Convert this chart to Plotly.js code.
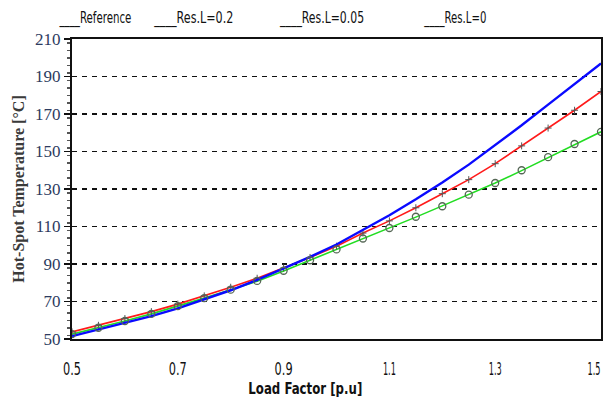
<!DOCTYPE html>
<html>
<head>
<meta charset="utf-8">
<script src="https://cdn.plot.ly/plotly-3.0.1.min.js"></script>
<style>
  html, body { margin: 0; padding: 0; background: #ffffff; }
  #chart { width: 607px; height: 399px; }
</style>
</head>
<body>
<div id="chart"></div>
<script>
// Load factor samples (p.u.)
const loadFactor = [0.5, 0.55, 0.6, 0.65, 0.7, 0.75, 0.8, 0.85, 0.9, 0.95, 1.0,
                    1.05, 1.1, 1.15, 1.2, 1.25, 1.3, 1.35, 1.4, 1.45, 1.5];

// Hot-spot temperature (°C) for each model
const referenceTemp = [52.6, 56.0, 59.6, 63.4, 67.5, 71.8, 76.3, 81.0, 86.4, 92.0, 97.8,
                       103.6, 109.2, 115.2, 120.8, 127.0, 133.2, 140.0, 147.0, 154.0, 160.5];
const resL02Temp    = [51.5, 55.0, 58.5, 62.2, 66.3, 71.0, 76.0, 81.5, 87.5, 93.8, 100.4,
                       108.0, 116.0, 124.5, 133.5, 143.0, 153.3, 164.0, 175.0, 186.0, 197.0];
const resL005Temp   = [53.8, 57.3, 60.9, 64.6, 68.6, 73.0, 77.6, 82.4, 87.8, 93.5, 99.5,
                       106.5, 113.0, 120.0, 127.5, 135.0, 143.5, 153.0, 162.5, 172.0, 182.0];
const resL0Temp     = [52.6, 56.0, 59.6, 63.4, 67.5, 71.8, 76.3, 80.8, 86.3, 92.0, 97.5,
                       103.3, 109.0, 115.0, 121.0, 127.0, 133.2, 139.8, 146.6, 153.4, 160.5];

// Legend labels and axis ticks
const seriesNames = ['Reference', 'Res.L=0.2', 'Res.L=0.05', 'Res.L=0'];
const xTicks = [0.5, 0.7, 0.9, 1.1, 1.3, 1.5];
const yTicks = [50, 70, 90, 110, 130, 150, 170, 190, 210];

const narrow = '"DejaVu Sans Condensed", "Liberation Sans Narrow", "Arial Narrow", sans-serif';
const serif = '"Liberation Serif", "Times New Roman", serif';

const traces = [
  {
    x: loadFactor, y: resL0Temp, name: seriesNames[3], mode: 'lines',
    line: { color: '#22dd22', width: 1.6 }
  },
  {
    x: loadFactor, y: resL005Temp, name: seriesNames[2], mode: 'lines+markers',
    line: { color: '#ff1a1a', width: 1.6 },
    marker: { symbol: 'cross-thin-open', size: 5, color: '#555555', line: { width: 1, color: '#555555' } }
  },
  {
    x: loadFactor, y: resL02Temp, name: seriesNames[1], mode: 'lines',
    line: { color: '#0a0aff', width: 2.4 }
  },
  {
    x: loadFactor, y: referenceTemp, name: seriesNames[0], mode: 'markers',
    marker: { symbol: 'circle-open', size: 7, color: '#556655', line: { width: 1.3, color: '#556655' } }
  }
];

// Legend drawn as condensed text entries across the top, each preceded by an underline.
// Each entry is given by its left and right pixel edge.
const plotLeft = 72, plotRight = 601;
const legendSpans = [[59, 131], [154, 233], [279, 363], [424, 486]];
const toPaper = px => (px - plotLeft) / (plotRight - plotLeft);

const annotations = seriesNames.map((name, i) => ({
  text: '____' + name,
  xref: 'paper', yref: 'paper',
  x: toPaper((legendSpans[i][0] + legendSpans[i][1]) / 2),
  y: 1.0, yshift: 21,
  xanchor: 'center', yanchor: 'middle',
  showarrow: false,
  font: { family: narrow, size: 15, color: '#111111' }
}));

const xTitleSpan = [248, 362];
annotations.push({
  text: '<b>Load Factor [p.u]</b>',
  xref: 'paper', yref: 'paper',
  x: toPaper((xTitleSpan[0] + xTitleSpan[1]) / 2), y: 0, yshift: -50,
  xanchor: 'center', yanchor: 'middle',
  showarrow: false,
  font: { family: narrow, size: 15, color: '#111111' }
});

// Condensed widths of the x tick labels (px); the last label sits against the right edge
const xTickWidths = [18, 18, 18, 13, 13, 13];
const lastTickNudge = -7;

const layout = {
  width: 607, height: 399,
  margin: { l: 72, r: 6, t: 39, b: 60 },
  paper_bgcolor: '#ffffff', plot_bgcolor: '#ffffff',
  showlegend: false,
  xaxis: {
    range: [0.5, 1.5],
    tickvals: xTicks,
    ticktext: xTicks.map(v => v.toFixed(1)),
    showgrid: false, zeroline: false,
    showline: true, mirror: true, linecolor: '#111111', linewidth: 2,
    ticks: '', ticklabelstandoff: 14, ticklabeloverflow: 'allow',
    tickfont: { family: narrow, size: 17, color: '#111111' }
  },
  yaxis: {
    range: [50, 210],
    tickvals: yTicks,
    showgrid: true, gridcolor: '#111111', gridwidth: 1.2, griddash: '5px,5px',
    zeroline: false,
    showline: true, mirror: true, linecolor: '#111111', linewidth: 2,
    ticks: 'outside', ticklen: 6, tickcolor: '#111111', tickwidth: 1.5,
    minor: { dtick: 4, ticks: 'outside', ticklen: 3, tickcolor: '#555555', showgrid: false },
    tickfont: { family: serif, size: 17, color: '#2d3b60' },
    title: {
      text: '<b>Hot-Spot Temperature [°C]</b>',
      font: { family: serif, size: 16, color: '#3a3a3a' },
      standoff: 6
    }
  },
  annotations: annotations
};

// Squeeze a text element horizontally to a given width, keeping its centre
function condense(el, width) {
  el.setAttribute('textLength', width);
  el.setAttribute('lengthAdjust', 'spacingAndGlyphs');
}

Plotly.newPlot('chart', traces, layout, { displayModeBar: false, staticPlot: true }).then(gd => {
  const tickTexts = gd.querySelectorAll('.xtick text');
  tickTexts.forEach((el, i) => {
    if (i < xTickWidths.length) condense(el, xTickWidths[i]);
    if (i === xTicks.length - 1) el.setAttribute('dx', lastTickNudge);
  });
  gd.querySelectorAll('g.annotation').forEach(g => {
    const idx = +g.getAttribute('data-index');
    const txt = g.querySelector('text.annotation-text');
    if (!txt) return;
    const span = idx < legendSpans.length ? legendSpans[idx] : xTitleSpan;
    condense(txt, span[1] - span[0]);
  });
});
</script>
</body>
</html>
